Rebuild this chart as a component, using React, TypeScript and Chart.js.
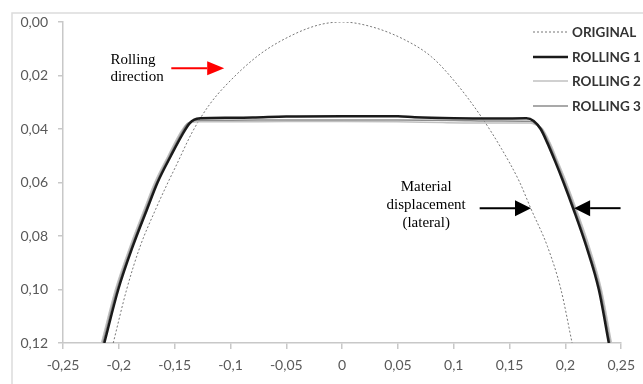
import React, { useEffect, useRef } from "react";
import { Chart, registerables } from "chart.js";

Chart.register(...registerables);

// ---- data (x = lateral position, y = depth) ----
const originalX = [-0.205, -0.193, -0.181, -0.167, -0.156, -0.149, -0.134, -0.119, -0.104, -0.0744, -0.0447, -0.02, 0, 0.0266, 0.0563, 0.08, 0.101, 0.1246, 0.1425, 0.1588, 0.169, 0.184, 0.196, 0.206];
const originalY = [0.12, 0.1, 0.084, 0.07, 0.06, 0.054, 0.041, 0.031, 0.0236, 0.0123, 0.0049, 0.001, 0, 0.0018, 0.0067, 0.013, 0.0223, 0.0354, 0.0472, 0.0597, 0.0697, 0.084, 0.1, 0.12];

const rolling1X = [-0.213, -0.2005, -0.1876, -0.1747, -0.1653, -0.1533, -0.143, -0.1368, -0.1324, -0.127, -0.1, -0.08, -0.05, 0, 0.05, 0.065, 0.1, 0.14, 0.165, 0.1716, 0.1778, 0.1836, 0.1907, 0.1983, 0.2072, 0.2188, 0.2299, 0.2389];
const rolling1Y = [0.12, 0.1, 0.084, 0.07, 0.06, 0.05, 0.042, 0.038, 0.0365, 0.036, 0.0358, 0.0357, 0.0353, 0.0352, 0.0352, 0.0356, 0.036, 0.0361, 0.036, 0.037, 0.04, 0.045, 0.052, 0.06, 0.07, 0.084, 0.1, 0.12];

const rolling2X = [-0.2155, -0.203, -0.19, -0.1772, -0.1678, -0.1558, -0.1458, -0.14, -0.134, -0.128, -0.1, -0.05, 0, 0.05, 0.09, 0.14, 0.168, 0.174, 0.1795, 0.186, 0.193, 0.2008, 0.2097, 0.2213, 0.2322, 0.2412];
const rolling2Y = [0.12, 0.1, 0.084, 0.07, 0.06, 0.05, 0.042, 0.0385, 0.0375, 0.0373, 0.0373, 0.0372, 0.0372, 0.0373, 0.0376, 0.0378, 0.0378, 0.0385, 0.04, 0.045, 0.052, 0.06, 0.07, 0.084, 0.1, 0.12];

const rolling3X = [-0.2143, -0.2018, -0.1888, -0.176, -0.1665, -0.1546, -0.1445, -0.1385, -0.132, -0.126, -0.1, -0.05, 0, 0.05, 0.1, 0.14, 0.168, 0.1735, 0.1788, 0.1848, 0.1919, 0.1995, 0.2085, 0.22, 0.2311, 0.24];
const rolling3Y = [0.12, 0.1, 0.084, 0.07, 0.06, 0.05, 0.042, 0.038, 0.0368, 0.0367, 0.0367, 0.0366, 0.0366, 0.0366, 0.0368, 0.037, 0.0371, 0.038, 0.04, 0.045, 0.052, 0.06, 0.07, 0.084, 0.1, 0.12];

const seriesLabels = ["ORIGINAL", "ROLLING 1", "ROLLING 2", "ROLLING 3"];

// axis ranges
const xMin = -0.25, xMax = 0.25, xStep = 0.05;
const yMin = 0, yMax = 0.12, yStep = 0.02;

// annotation anchors in data coordinates
const rollingText = { x: -0.2075, lines: ["Rolling", "direction"], ys: [0.0142, 0.0206] };
const rollingArrow = { x1: -0.153, x2: -0.1056, y: 0.0173 };
const materialText = { x: 0.0753, lines: ["Material", "displacement", "(lateral)"], ys: [0.0617, 0.0684, 0.0751] };
const materialArrowLeft = { x1: 0.1232, x2: 0.1692, y: 0.0696 };
const materialArrowRight = { x1: 0.2494, x2: 0.2078, y: 0.0696 };

const zip = (xs: number[], ys: number[]) => xs.map((x, i) => ({ x, y: ys[i] }));

const fmt = (v: number) => String(parseFloat(Number(v).toFixed(2))).replace(".", ",");

function drawArrow(ctx: CanvasRenderingContext2D, x1: number, y1: number, x2: number, y2: number, color: string, headLen: number, headHalf: number, lw: number) {
  const ang = Math.atan2(y2 - y1, x2 - x1);
  const bx = x2 - headLen * Math.cos(ang);
  const by = y2 - headLen * Math.sin(ang);
  ctx.save();
  ctx.strokeStyle = color;
  ctx.fillStyle = color;
  ctx.lineWidth = lw;
  ctx.setLineDash([]);
  ctx.beginPath();
  ctx.moveTo(x1, y1);
  ctx.lineTo(bx, by);
  ctx.stroke();
  ctx.beginPath();
  ctx.moveTo(x2, y2);
  ctx.lineTo(bx + headHalf * Math.sin(ang), by - headHalf * Math.cos(ang));
  ctx.lineTo(bx - headHalf * Math.sin(ang), by + headHalf * Math.cos(ang));
  ctx.closePath();
  ctx.fill();
  ctx.restore();
}

const framePlugin = {
  id: "frame",
  beforeDraw(chart: any) {
    const ctx = chart.ctx;
    ctx.save();
    ctx.fillStyle = "#ffffff";
    ctx.fillRect(0, 0, chart.width, chart.height);
    ctx.strokeStyle = "#dcdcdc";
    ctx.lineWidth = 1.5;
    ctx.beginPath();
    ctx.moveTo(12, chart.height);
    ctx.lineTo(12, 13);
    ctx.lineTo(chart.width, 13);
    ctx.stroke();
    ctx.restore();
  },
};

const annotationPlugin = {
  id: "annotations",
  afterDraw(chart: any) {
    const ctx = chart.ctx;
    const xs = chart.scales.x;
    const ys = chart.scales.y;
    ctx.save();
    ctx.font = '15px "Liberation Serif", "Times New Roman", serif';
    ctx.fillStyle = "#000000";
    ctx.textBaseline = "middle";
    ctx.textAlign = "left";
    rollingText.lines.forEach((t, i) => ctx.fillText(t, xs.getPixelForValue(rollingText.x), ys.getPixelForValue(rollingText.ys[i])));
    ctx.textAlign = "center";
    materialText.lines.forEach((t, i) => ctx.fillText(t, xs.getPixelForValue(materialText.x), ys.getPixelForValue(materialText.ys[i])));
    ctx.restore();

    drawArrow(ctx, xs.getPixelForValue(rollingArrow.x1), ys.getPixelForValue(rollingArrow.y), xs.getPixelForValue(rollingArrow.x2), ys.getPixelForValue(rollingArrow.y), "#ff0000", 17, 7, 2);
    drawArrow(ctx, xs.getPixelForValue(materialArrowLeft.x1), ys.getPixelForValue(materialArrowLeft.y), xs.getPixelForValue(materialArrowLeft.x2), ys.getPixelForValue(materialArrowLeft.y), "#000000", 16, 8, 2);
    drawArrow(ctx, xs.getPixelForValue(materialArrowRight.x1), ys.getPixelForValue(materialArrowRight.y), xs.getPixelForValue(materialArrowRight.x2), ys.getPixelForValue(materialArrowRight.y), "#000000", 16, 8, 2);

    // legend
    const rows = [32, 57, 81, 106];
    ctx.save();
    ctx.font = 'bold 13.5px Lato, "Open Sans", sans-serif';
    ctx.textBaseline = "middle";
    ctx.textAlign = "left";
    chart.data.datasets.forEach((ds: any, i: number) => {
      const y = rows[i];
      ctx.strokeStyle = ds.borderColor;
      ctx.lineWidth = ds.borderWidth;
      ctx.setLineDash(ds.borderDash || []);
      ctx.beginPath();
      ctx.moveTo(533, y);
      ctx.lineTo(568, y);
      ctx.stroke();
      ctx.setLineDash([]);
      ctx.fillStyle = "#333333";
      ctx.fillText(ds.label, 572, y + 1);
    });
    ctx.restore();
  },
};

export default function App() {
  const ref = useRef<HTMLCanvasElement | null>(null);
  useEffect(() => {
    if (!ref.current) return;
    const chart = new Chart(ref.current, {
      type: "line",
      data: {
        datasets: [
          { label: seriesLabels[0], data: zip(originalX, originalY), borderColor: "#777777", borderWidth: 1, borderDash: [2, 2], pointRadius: 0, cubicInterpolationMode: "monotone", order: 3 },
          { label: seriesLabels[1], data: zip(rolling1X, rolling1Y), borderColor: "#1a1a1a", borderWidth: 2.5, pointRadius: 0, cubicInterpolationMode: "monotone", order: 0 },
          { label: seriesLabels[2], data: zip(rolling2X, rolling2Y), borderColor: "#c0c0c0", borderWidth: 1.5, pointRadius: 0, cubicInterpolationMode: "monotone", order: 2 },
          { label: seriesLabels[3], data: zip(rolling3X, rolling3Y), borderColor: "#8c8c8c", borderWidth: 1.5, pointRadius: 0, cubicInterpolationMode: "monotone", order: 1 },
        ],
      } as any,
      options: {
        animation: false,
        responsive: false,
        parsing: false,
        layout: { padding: { top: 22, right: 19, left: 0, bottom: 0 } },
        plugins: { legend: { display: false }, tooltip: { enabled: false } },
        scales: {
          x: {
            type: "linear",
            min: xMin,
            max: xMax,
            ticks: { stepSize: xStep, callback: (v: any) => fmt(v), color: "#595959", font: { family: "Lato", size: 14 }, padding: 8, maxRotation: 0, autoSkip: false },
            grid: { drawOnChartArea: false, drawTicks: true, tickLength: 6, color: "#c8c8c8", lineWidth: 1.5 },
            border: { color: "#c8c8c8", width: 1.5 },
            afterFit: (s: any) => { s.height = 41; },
          },
          y: {
            type: "linear",
            reverse: true,
            min: yMin,
            max: yMax,
            ticks: { stepSize: yStep, callback: (v: any) => Number(v).toFixed(2).replace(".", ","), color: "#595959", font: { family: "Lato", size: 14 }, padding: 10 },
            grid: { drawOnChartArea: false, drawTicks: true, tickLength: 5, color: "#c8c8c8", lineWidth: 1.5 },
            border: { color: "#c8c8c8", width: 1.5 },
            afterFit: (s: any) => { s.width = 63; },
          },
        },
      } as any,
      plugins: [framePlugin, annotationPlugin],
    });
    return () => chart.destroy();
  }, []);
  return (
    <div style={{ position: "absolute", left: 0, top: 0, width: 643, height: 384, background: "#fff" }}>
      <canvas ref={ref} width={643} height={384} />
    </div>
  );
}
